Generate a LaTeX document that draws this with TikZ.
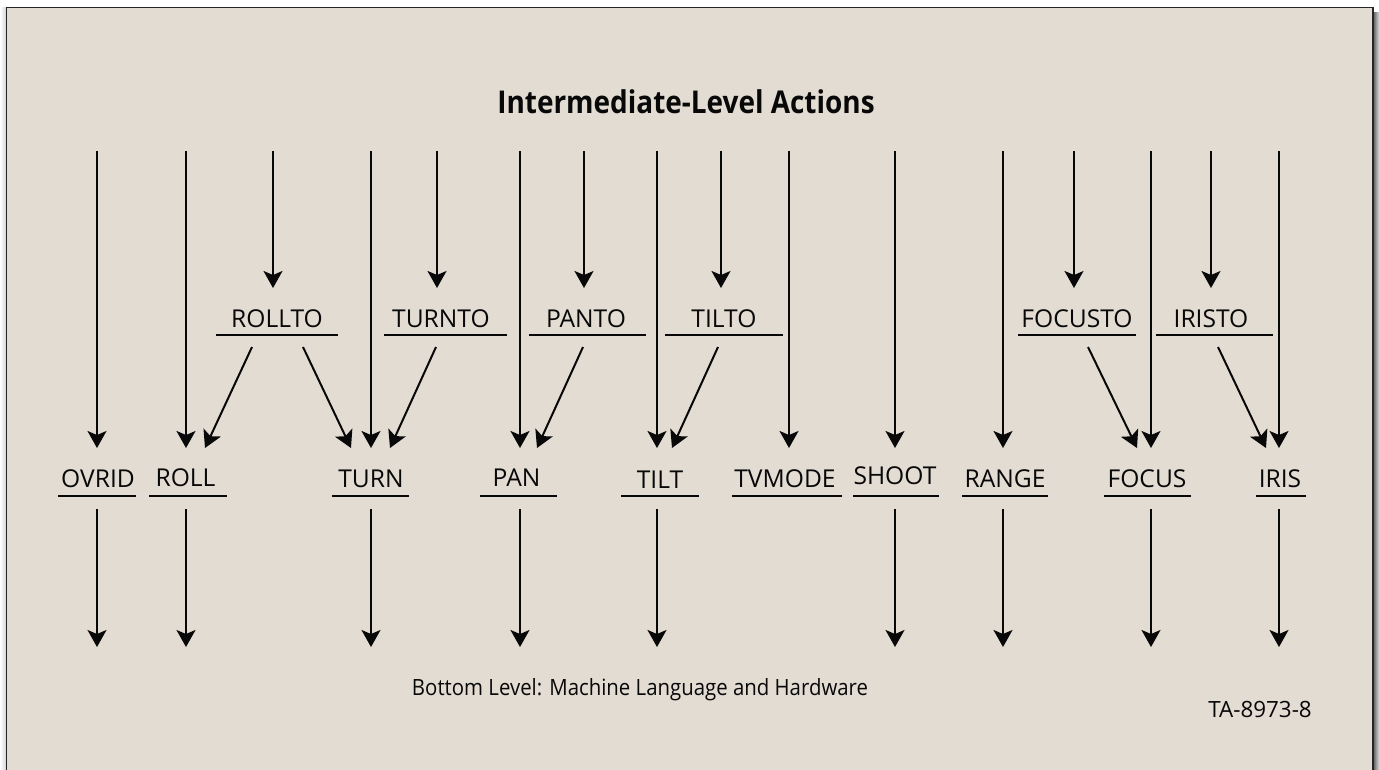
\documentclass[tikz,border=0pt]{standalone}
\usepackage{fontspec}
\setmainfont{Open Sans}
\usetikzlibrary{arrows.meta}
\definecolor{bg}{RGB}{226,220,211}
\definecolor{ink}{RGB}{8,8,8}
\tikzset{
  conn/.style={draw=ink, line width=2pt, -{Stealth[length=17pt,width=19pt,inset=4pt]}},
  uline/.style={draw=ink, line width=2.2pt},
  lab/.style={anchor=base, inner sep=0pt, text=ink, font=\fontsize{24.6}{25}\selectfont},
  titlestyle/.style={anchor=base, inner sep=0pt, text=ink, font=\bfseries\fontsize{31.4}{32}\selectfont},
}
\begin{document}
\begin{tikzpicture}[x=1pt,y=-1pt]
\useasboundingbox (0,0) rectangle (1379,769);
\fill[white] (0,0) rectangle (1379,769);
\shade[left color=white, right color=black!18] (0,7) rectangle (6.5,769);
\shade[left color=black!65, right color=black!15] (1373,12) rectangle (1379,769);
\filldraw[fill=bg, draw=black!85, line width=1.5pt] (6.5,7.5) rectangle (1373,790);

% titles
\node[titlestyle] (title) at (686,113) {\scalebox{0.89}[1]{Intermediate-Level Actions}};
\node[lab, font=\fontsize{22.4}{23}\selectfont] (bottom) at (640,695) {\scalebox{0.91}[1]{Bottom Level: Machine Language and Hardware}};
\node[lab, font=\fontsize{22.4}{23}\selectfont] (ta) at (1260,717) {TA-8973-8};

% first-level labels
\node[lab] (rollto)  at (277,327) {ROLLTO};
\node[lab] (turnto)  at (441,327) {TURNTO};
\node[lab] (panto)   at (586,327) {PANTO};
\node[lab] (tilto)   at (724,327) {TILTO};
\node[lab] (focusto) at (1077,327) {FOCUSTO};
\node[lab] (iristo)  at (1211,327) {IRISTO};
\draw[uline] (216,335) -- (338,335);
\draw[uline] (384,335) -- (507,335);
\draw[uline] (529,335) -- (646,335);
\draw[uline] (665,335) -- (783,335);
\draw[uline] (1018,335) -- (1136,335);
\draw[uline] (1156,335) -- (1273,335);

% second-level labels
\node[lab] (ovrid)  at (98,487) {OVRID};
\node[lab] (roll)   at (185.5,486) {ROLL};
\node[lab] (turn)   at (371,487) {TURN};
\node[lab] (pan)    at (516.5,486) {PAN};
\node[lab] (tilt)   at (660,488) {TILT};
\node[lab] (tvmode) at (785,487) {TVMODE};
\node[lab] (shoot)  at (895,484) {SHOOT};
\node[lab] (range)  at (1005,487) {RANGE};
\node[lab] (focus)  at (1147,487) {FOCUS};
\node[lab] (iris)   at (1280,487) {IRIS};
\draw[uline] (58,496) -- (136,496);
\draw[uline] (149,496) -- (227,496);
\draw[uline] (332,496) -- (409,496);
\draw[uline] (480,496) -- (557,496);
\draw[uline] (621,496) -- (699,496);
\draw[uline] (732,496) -- (842,496);
\draw[uline] (853,496) -- (939,496);
\draw[uline] (962,496) -- (1048,496);
\draw[uline] (1104,496) -- (1191,496);
\draw[uline] (1256,496) -- (1306,496);

% coordinates: top sources
\foreach \n/\x in {ovrid/97, roll/186, turn/371, pan/520, tilt/657, tvmode/789, shoot/895, range/1003, focus/1151, iris/1279} {
  \coordinate (top-\n) at (\x,151);
  \coordinate (in-\n) at (\x,448);
}
\foreach \n/\x in {rollto/273, turnto/437, panto/584, tilto/721, focusto/1074, iristo/1211} {
  \coordinate (top-\n) at (\x,151);
  \coordinate (in-\n) at (\x,288);
}
\foreach \n/\x in {ovrid/97, roll/186, turn/371, pan/520, tilt/657, shoot/895, range/1003, focus/1151, iris/1279} {
  \coordinate (out-\n) at (\x,509);
  \coordinate (hw-\n) at (\x,647);
}

% arrows from top
\foreach \n in {ovrid, roll, turn, pan, tilt, tvmode, shoot, range, focus, iris, rollto, turnto, panto, tilto, focusto, iristo}
  \draw[conn] (top-\n) -- (in-\n);

% diagonal arrows
\coordinate (rollto-a) at (252,347); \coordinate (roll-b) at (205,448);
\coordinate (rollto-b) at (303,347); \coordinate (turn-a) at (351,448);
\coordinate (turnto-a) at (436,347); \coordinate (turn-b) at (390,448);
\coordinate (panto-a) at (583,347);  \coordinate (pan-b) at (537,448);
\coordinate (tilto-a) at (718,347);  \coordinate (tilt-b) at (672,448);
\coordinate (focusto-a) at (1088,347); \coordinate (focus-b) at (1137,448);
\coordinate (iristo-a) at (1218,347);  \coordinate (iris-b) at (1266,448);
\draw[conn] (rollto-a) -- (roll-b);
\draw[conn] (rollto-b) -- (turn-a);
\draw[conn] (turnto-a) -- (turn-b);
\draw[conn] (panto-a) -- (pan-b);
\draw[conn] (tilto-a) -- (tilt-b);
\draw[conn] (focusto-a) -- (focus-b);
\draw[conn] (iristo-a) -- (iris-b);

% arrows to bottom level
\foreach \n in {ovrid, roll, turn, pan, tilt, shoot, range, focus, iris}
  \draw[conn] (out-\n) -- (hw-\n);
\end{tikzpicture}
\end{document}
